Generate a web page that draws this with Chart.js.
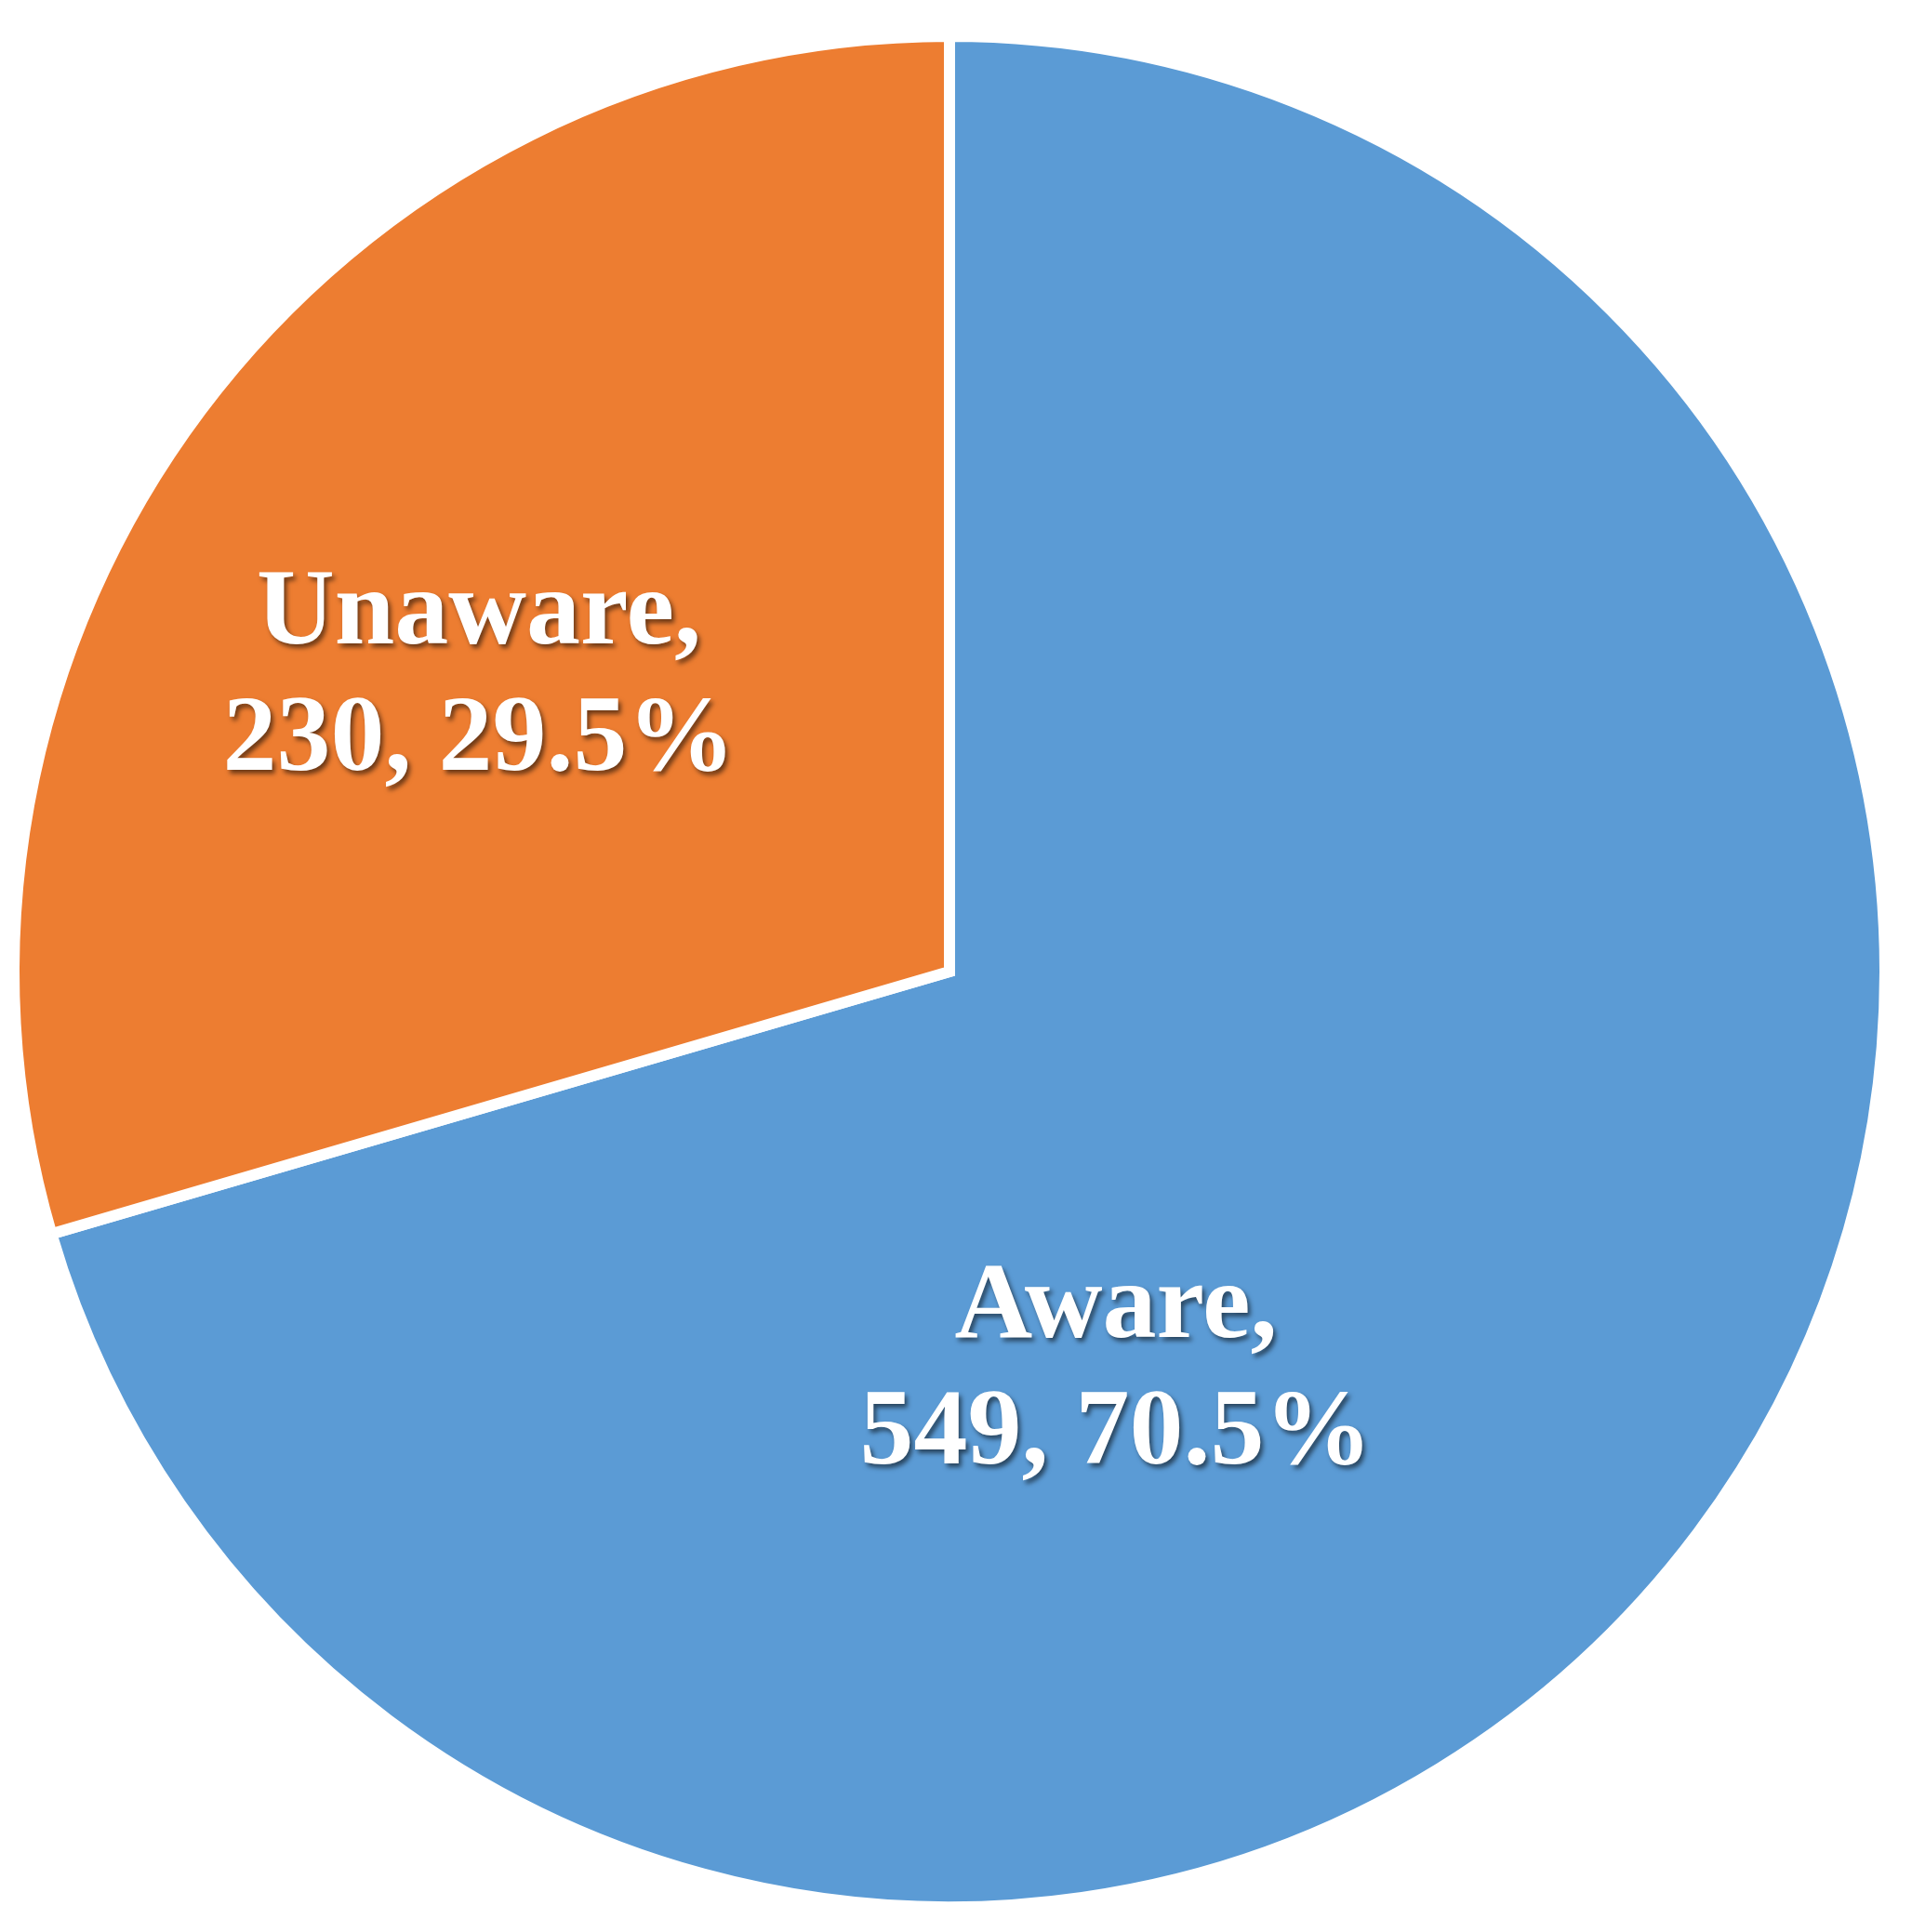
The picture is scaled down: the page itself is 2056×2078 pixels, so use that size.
<!DOCTYPE html>
<html>
<head>
<meta charset="utf-8">
<script src="https://cdn.jsdelivr.net/npm/chart.js@4/dist/chart.umd.min.js"></script>
<style>
  html, body { margin: 0; padding: 0; background: #ffffff; }
  #wrap { width: 2056px; height: 2078px; position: relative; }
</style>
</head>
<body>
<div id="wrap"><canvas id="c"></canvas></div>
<script>
const categories = ["Aware", "Unaware"];
const counts = [549, 230];
const sliceColors = ["#5B9BD5", "#ED7D31"];

// label anchors as fractions of the pie radius, relative to the pie centre
const labelOffsets = [[0.179, 0.423], [-0.506, -0.323]];

const total = counts.reduce((a, b) => a + b, 0);

const labelPlugin = {
  id: 'sliceLabels',
  afterDatasetsDraw(chart) {
    const meta = chart.getDatasetMeta(0);
    const ctx = chart.ctx;
    ctx.save();
    ctx.font = 'bold 116px "Liberation Serif", "Times New Roman", serif';
    ctx.textAlign = 'center';
    ctx.textBaseline = 'alphabetic';
    ctx.fillStyle = '#ffffff';
    ctx.shadowColor = 'rgba(0,0,0,0.55)';
    ctx.shadowOffsetX = 3;
    ctx.shadowOffsetY = 4;
    ctx.shadowBlur = 5;
    meta.data.forEach((arc, i) => {
      const R = arc.outerRadius - 6;
      const cx = arc.x + labelOffsets[i][0] * R;
      const cy = arc.y + labelOffsets[i][1] * R;
      const pct = (counts[i] / total * 100).toFixed(1);
      const lines = [categories[i] + ',', counts[i] + ', ' + pct + '%'];
      const lh = 136;
      const capHalf = 38;
      lines.forEach((t, k) => {
        ctx.fillText(t, cx, cy + capHalf + (k - (lines.length - 1) / 2) * lh);
      });
    });
    ctx.restore();
  }
};

new Chart(document.getElementById('c'), {
  type: 'pie',
  data: {
    labels: categories,
    datasets: [{
      data: counts,
      backgroundColor: sliceColors,
      borderColor: '#ffffff',
      borderWidth: 12,
      borderJoinStyle: 'miter',
      hoverOffset: 0
    }]
  },
  options: {
    responsive: true,
    maintainAspectRatio: false,
    animation: false,
    layout: { padding: { left: 9, top: 33, right: 23, bottom: 21 } },
    plugins: {
      legend: { display: false },
      title: { display: false },
      tooltip: { enabled: false }
    }
  },
  plugins: [labelPlugin]
});
</script>
</body>
</html>
